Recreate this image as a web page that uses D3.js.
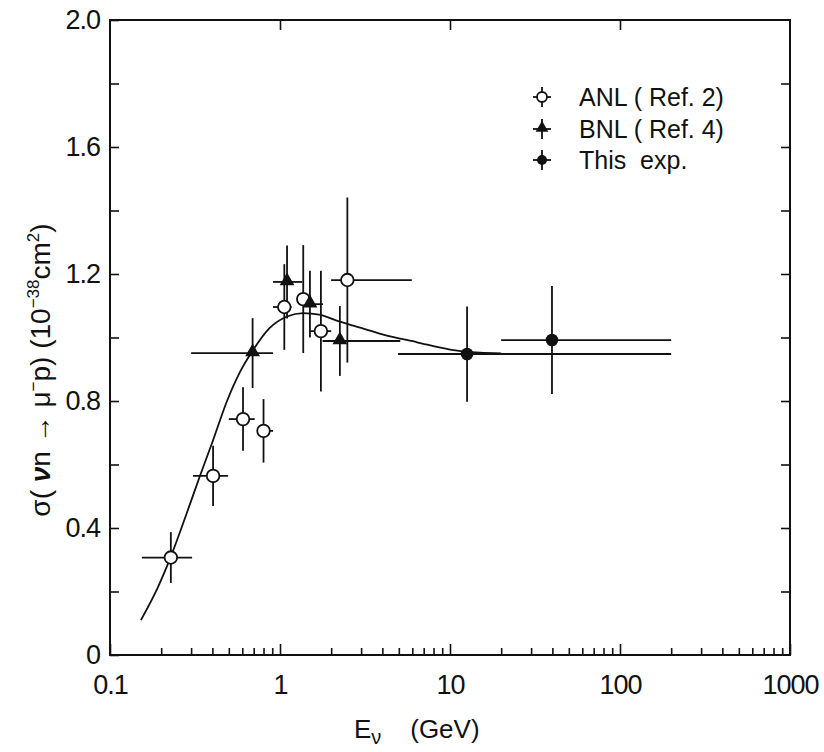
<!DOCTYPE html>
<html><head><meta charset="utf-8">
<script src="https://cdn.jsdelivr.net/npm/d3@7"></script>
<style>body{margin:0;background:#fff}svg{display:block}text{font-family:"Liberation Sans",Arial,sans-serif;fill:#111}</style>
</head><body><svg id="c" width="824" height="752"></svg>
<script>
// ANL (Ref. 2) open circles
const anlE   = [0.228, 0.404, 0.606, 0.80, 1.06, 1.37, 1.74, 2.49];
const anlS   = [0.307, 0.564, 0.743, 0.706, 1.096, 1.121, 1.02, 1.181];
const anlErr = [0.08, 0.095, 0.10, 0.10, 0.135, 0.17, 0.19, 0.26];
const anlElo = [0.154, 0.308, 0.50, 0.75, 0.91, 1.28, 1.50, 2.0];
const anlEhi = [0.304, 0.495, 0.71, 0.91, 1.17, 1.50, 2.0, 5.96];
// BNL (Ref. 4) triangles
const bnlE   = [0.69, 1.10, 1.50, 2.25];
const bnlS   = [0.951, 1.175, 1.105, 0.989];
const bnlErr = [0.11, 0.115, 0.105, 0.11];
const bnlElo = [0.30, 0.91, 1.30, 1.78];
const bnlEhi = [0.91, 1.35, 1.79, 5.1];
// This experiment, filled circles
const expE   = [12.6, 39.8];
const expS   = [0.948, 0.992];
const expErr = [0.15, 0.17];
const expElo = [4.95, 20];
const expEhi = [200, 200];
// theory curve
const curveE = [0.152, 0.19, 0.228, 0.28, 0.338, 0.40, 0.488, 0.58, 0.69, 0.87, 1.10, 1.37, 1.7, 2.25, 3.0, 4.0, 6.4, 10, 15, 20];
const curveS = [0.11, 0.21, 0.31, 0.44, 0.564, 0.67, 0.80, 0.89, 0.958, 1.03, 1.066, 1.077, 1.072, 1.05, 1.03, 1.01, 0.985, 0.962, 0.952, 0.95];
// ticks
const xTickLabels = ["0.1", "1", "10", "100", "1000"];
const xMajor = [0.1, 1, 10, 100, 1000];
const yTickLabels = ["0", "0.4", "0.8", "1.2", "1.6", "2.0"];
const yMajor = [0, 0.4, 0.8, 1.2, 1.6, 2.0];
const yAll = [0, 0.2, 0.4, 0.6, 0.8, 1.0, 1.2, 1.4, 1.6, 1.8, 2.0];
const legendLabels = ["ANL ( Ref. 2)", "BNL ( Ref. 4)", "This  exp."];

const svg = d3.select("#c");
const L = 110, R = 790, T = 20, B = 655;
const x = d3.scaleLog().domain([0.1, 1000]).range([L, R]);
const y = d3.scaleLinear().domain([0, 2]).range([B, T]);

const xMinor = [];
for (let d = 0.1; d < 1000; d *= 10) for (let k = 2; k <= 9; k++) xMinor.push(+(d * k).toPrecision(3));

const stroke = "#111";
// frame
svg.append("rect").attr("x", L).attr("y", T).attr("width", R - L).attr("height", B - T)
  .attr("fill", "none").attr("stroke", stroke).attr("stroke-width", 2);

function styleAxis(g) { g.select(".domain").remove(); g.selectAll("line").attr("stroke", stroke).attr("stroke-width", 1.6); }

svg.append("g").attr("transform", `translate(0,${B})`)
  .call(d3.axisBottom(x).tickValues(xMinor).tickSize(-7).tickFormat("")).call(styleAxis);
svg.append("g").attr("transform", `translate(0,${B})`)
  .call(d3.axisBottom(x).tickValues(xMajor).tickSize(-11).tickPadding(20).tickFormat((d, i) => xTickLabels[i]))
  .call(styleAxis)
  .call(g => g.selectAll("text").attr("font-size", 27).attr("fill", "#111").attr("letter-spacing", -1).attr("dy", "0.71em"));
svg.append("g").attr("transform", `translate(0,${T})`)
  .call(d3.axisTop(x).tickValues(xMajor.slice(1, 4)).tickSize(-10).tickFormat("")).call(styleAxis);
svg.append("g").attr("transform", `translate(${L},0)`)
  .call(d3.axisLeft(y).tickValues(yAll).tickSize(-9).tickFormat("")).call(styleAxis);
svg.append("g").attr("transform", `translate(${L},0)`)
  .call(d3.axisLeft(y).tickValues(yMajor).tickSize(0).tickPadding(10).tickFormat((d, i) => yTickLabels[i]))
  .call(styleAxis)
  .call(g => g.selectAll("text").attr("font-size", 27).attr("fill", "#111").attr("letter-spacing", -1));
svg.append("g").attr("transform", `translate(${R},0)`)
  .call(d3.axisRight(y).tickValues(yAll.slice(1, 10)).tickSize(-9).tickFormat("")).call(styleAxis);

// curve
const line = d3.line().x((d, i) => x(curveE[i])).y((d, i) => y(curveS[i])).curve(d3.curveMonotoneX);
svg.append("path").datum(curveE).attr("d", line).attr("fill", "none").attr("stroke", stroke).attr("stroke-width", 1.8);

function errBars(E, S, err, lo, hi) {
  const g = svg.append("g").attr("stroke", stroke).attr("stroke-width", 1.8);
  E.forEach((e, i) => {
    g.append("line").attr("x1", x(e)).attr("x2", x(e)).attr("y1", y(S[i] + err[i])).attr("y2", y(S[i] - err[i]));
    g.append("line").attr("x1", x(lo[i])).attr("x2", x(hi[i])).attr("y1", y(S[i])).attr("y2", y(S[i]));
  });
}
errBars(anlE, anlS, anlErr, anlElo, anlEhi);
errBars(bnlE, bnlS, bnlErr, bnlElo, bnlEhi);
errBars(expE, expS, expErr, expElo, expEhi);

const tri = d3.symbol().type(d3.symbolTriangle).size(95);
svg.append("g").selectAll("circle").data(anlE).join("circle")
  .attr("cx", d => x(d)).attr("cy", (d, i) => y(anlS[i])).attr("r", 6.3)
  .attr("fill", "#fff").attr("stroke", stroke).attr("stroke-width", 1.8);
svg.append("g").selectAll("path").data(bnlE).join("path")
  .attr("d", tri).attr("transform", (d, i) => `translate(${x(d)},${y(bnlS[i]) - 1})`).attr("fill", stroke);
svg.append("g").selectAll("circle").data(expE).join("circle")
  .attr("cx", d => x(d)).attr("cy", (d, i) => y(expS[i])).attr("r", 6.3).attr("fill", stroke);

// legend
const lg = svg.append("g");
const ly = [97, 129, 160];
ly.forEach((yy, i) => {
  const mx = 542;
  lg.append("line").attr("x1", mx).attr("x2", mx).attr("y1", yy - 10).attr("y2", yy + 10).attr("stroke", stroke).attr("stroke-width", 1.8);
  lg.append("line").attr("x1", mx - 9).attr("x2", mx + 9).attr("y1", yy).attr("y2", yy).attr("stroke", stroke).attr("stroke-width", 1.8);
  if (i === 0) lg.append("circle").attr("cx", mx).attr("cy", yy).attr("r", 5).attr("fill", "#fff").attr("stroke", stroke).attr("stroke-width", 1.8);
  if (i === 1) lg.append("path").attr("d", d3.symbol().type(d3.symbolTriangle).size(70)).attr("transform", `translate(${mx},${yy - 1})`).attr("fill", stroke);
  if (i === 2) lg.append("circle").attr("cx", mx).attr("cy", yy).attr("r", 5).attr("fill", stroke);
  lg.append("text").attr("x", 579).attr("y", yy).attr("dy", "0.36em").attr("font-size", 25).attr("xml:space", "preserve").text(legendLabels[i]);
});

// x title
const xt = svg.append("text").attr("x", 354).attr("y", 738).attr("font-size", 26).attr("xml:space", "preserve");
xt.append("tspan").text("E");
xt.append("tspan").attr("font-size", 20).attr("dy", 6).text("ν");
xt.append("tspan").attr("dy", -6).text("    (GeV)");

// y title
const yt = svg.append("text").attr("transform", "translate(50,370) rotate(-90)").attr("text-anchor", "middle").attr("font-size", 28).attr("xml:space", "preserve");
yt.append("tspan").text("σ( ");
yt.append("tspan").attr("font-weight", "bold").attr("font-style", "italic").text("ν");
yt.append("tspan").text("n → μ");
yt.append("tspan").attr("font-size", 17).attr("dy", -11).text("−");
yt.append("tspan").attr("dy", 11).text("p) (10");
yt.append("tspan").attr("font-size", 17).attr("dy", -11).text("−38");
yt.append("tspan").attr("dy", 11).text("cm");
yt.append("tspan").attr("font-size", 17).attr("dy", -11).text("2");
yt.append("tspan").attr("dy", 11).text(")");
</script></body></html>
